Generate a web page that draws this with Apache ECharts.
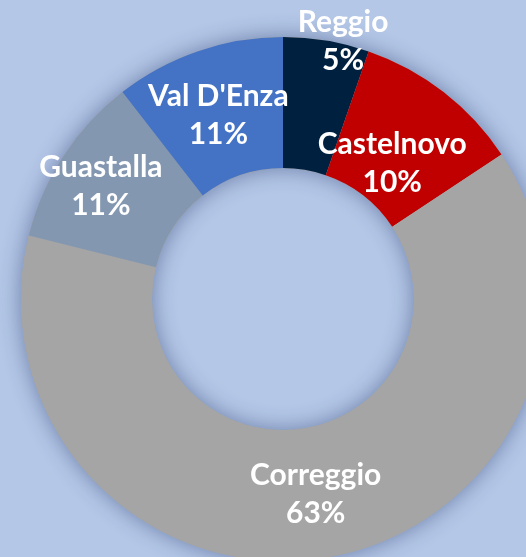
<!DOCTYPE html>
<html>
<head>
<meta charset="utf-8">
<script src="https://cdn.jsdelivr.net/npm/echarts@6/dist/echarts.min.js"></script>
<style>
  html, body { margin: 0; padding: 0; background: #b4c7e7; }
  #chart { width: 526px; height: 557px; }
</style>
</head>
<body>
<div id="chart"></div>
<script>
// dati (quote percentuali per sede)
const categories = ['Reggio', 'Castelnovo', 'Correggio', 'Guastalla', "Val D'Enza"]
const values = [5.3, 10.4, 63.2, 10.6, 10.5]
const colors = ['#002040', '#c00000', '#a5a5a5', '#8497b0', '#4472c4']

// spostamenti delle etichette rispetto alla posizione 'inside'
const labelNudge = [[27, -61], [-13, 22], [-1, -1], [-15, -4], [0, 5]]

const chart = echarts.init(document.getElementById('chart'))
const center = ['53.8%', '53.7%']
const radius = [131, 262]

chart.setOption({
  backgroundColor: '#b4c7e7',
  animation: false,
  series: [
    {
      // anello di sola ombra, dietro le fette
      type: 'pie',
      center,
      radius,
      silent: true,
      z: 1,
      label: {show: false},
      itemStyle: {
        color: '#a5a5a5',
        shadowBlur: 22,
        shadowColor: 'rgba(20, 40, 90, 0.45)'
      },
      data: [1]
    },
    {
      name: 'Sedi',
      type: 'pie',
      center,
      radius,
      z: 2,
      startAngle: 90,
      clockwise: true,
      percentPrecision: 0,
      itemStyle: {borderWidth: 0},
      label: {
        show: true,
        position: 'inside',
        formatter: '{b}\n{d}%',
        color: '#fff',
        fontFamily: 'Lato',
        fontWeight: 'bold',
        fontSize: 30,
        lineHeight: 38,
        align: 'center'
      },
      labelLine: {show: false},
      labelLayout: params => ({dx: labelNudge[params.dataIndex][0], dy: labelNudge[params.dataIndex][1]}),
      data: categories.map((name, i) => ({name, value: values[i], itemStyle: {color: colors[i]}}))
    }
  ]
})
</script>
</body>
</html>
